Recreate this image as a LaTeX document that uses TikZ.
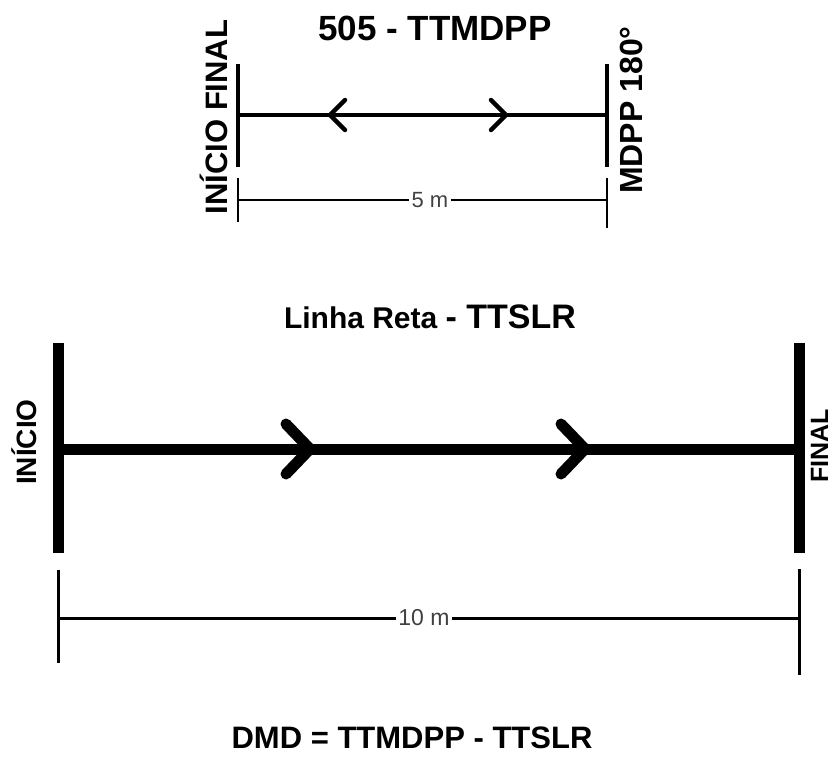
\documentclass[tikz,border=0pt]{standalone}
\usepackage{fontspec}
\setmainfont{Liberation Sans}
\usepackage{tikz}
\usetikzlibrary{positioning}
\tikzset{
    bar/.style={draw, line width=4.5pt},
    bigbar/.style={draw, line width=11pt},
    chev/.style={draw, line width=4.5pt, line cap=round, line join=round},
    bigchev/.style={draw, line width=11pt, line cap=round, line join=round},
    dim/.style={draw, line width=1.3pt},
    bigdim/.style={draw, line width=3pt},
    dimlabel/.style={inner sep=2pt, text=black!75},
    vlabel/.style={rotate=90, anchor=base, inner sep=0pt},
    title/.style={anchor=base, inner sep=0pt}
}

\begin{document}
\begin{tikzpicture}[x=1pt, y=-1pt]
    \useasboundingbox (0,0) rectangle (835,760);

    % Nodes
    \node[title, font=\bfseries\fontsize{35}{40}\selectfont] (ttmdpp) at (435,41) {505 - TTMDPP};
    \node[vlabel, font=\bfseries\fontsize{31}{36}\selectfont] (iniA) at (227,117) {INÍCIO FINAL};
    \node[vlabel, font=\bfseries\fontsize{32}{36}\selectfont] (mdpp) at (642,110) {MDPP 180°};
    \node[title] (ttslr) at (430,328) {\bfseries\fontsize{30}{34}\selectfont Linha Reta \fontsize{34}{38}\selectfont - TTSLR};
    \node[vlabel, font=\bfseries\fontsize{28}{32}\selectfont] (iniB) at (36,442) {INÍCIO};
    \node[vlabel, font=\bfseries\fontsize{25}{30}\selectfont] (finB) at (828,446) {FINAL};
    \node[title, font=\bfseries\fontsize{31}{36}\selectfont] (dmd) at (412,748) {DMD = TTMDPP - TTSLR};
    \node[dimlabel, font=\fontsize{22}{26}\selectfont] (dimA) at (430,200) {5 m};
    \node[dimlabel, font=\fontsize{23}{27}\selectfont] (dimB) at (424,618) {10 m};

    % top line
    \coordinate (sAt) at (238,64);
    \coordinate (sAb) at (238,167);
    \coordinate (sAm) at (238,115);
    \coordinate (eAt) at (607,64);
    \coordinate (eAb) at (607,167);
    \coordinate (eAm) at (607,115);
    \coordinate (chA1) at (330,115);
    \coordinate (chA2) at (506,115);
    \draw[bar] (sAt) -- (sAb);
    \draw[bar] (eAt) -- (eAb);
    \draw[bar] (sAm) -- (eAm);
    \draw[chev] ([shift={(15,-15)}]chA1) -- (chA1) -- ([shift={(15,15)}]chA1);
    \draw[chev] ([shift={(-15,-15)}]chA2) -- (chA2) -- ([shift={(-15,15)}]chA2);

    % top dimension
    \coordinate (dAt) at (238,178);
    \coordinate (dAb) at (238,222);
    \coordinate (dAl) at (238,200);
    \coordinate (dBt) at (607,178);
    \coordinate (dBb) at (607,228);
    \coordinate (dBr) at (607,200);
    \draw[dim] (dAt) -- (dAb);
    \draw[dim] (dBt) -- (dBb);
    \draw[dim] (dAl) -- (dimA) -- (dBr);

    % bottom line
    \coordinate (sBt) at (58,343);
    \coordinate (sBb) at (58,553);
    \coordinate (sBm) at (58,449);
    \coordinate (eBt) at (799,343);
    \coordinate (eBb) at (799,553);
    \coordinate (eBm) at (799,449);
    \coordinate (chB1) at (310,449);
    \coordinate (chB2) at (585,449);
    \draw[bigbar] (sBt) -- (sBb);
    \draw[bigbar] (eBt) -- (eBb);
    \draw[bigbar] (sBm) -- (eBm);
    \draw[bigchev] ([shift={(-24,-25)}]chB1) -- (chB1) -- ([shift={(-24,25)}]chB1);
    \draw[bigchev] ([shift={(-24,-25)}]chB2) -- (chB2) -- ([shift={(-24,25)}]chB2);

    % bottom dimension
    \coordinate (dCt) at (58,570);
    \coordinate (dCb) at (58,663);
    \coordinate (dCl) at (58,618);
    \coordinate (dDt) at (799,569);
    \coordinate (dDb) at (799,675);
    \coordinate (dDr) at (799,618);
    \draw[bigdim] (dCt) -- (dCb);
    \draw[bigdim] (dDt) -- (dDb);
    \draw[bigdim] (dCl) -- (dimB) -- (dDr);
\end{tikzpicture}
\end{document}
